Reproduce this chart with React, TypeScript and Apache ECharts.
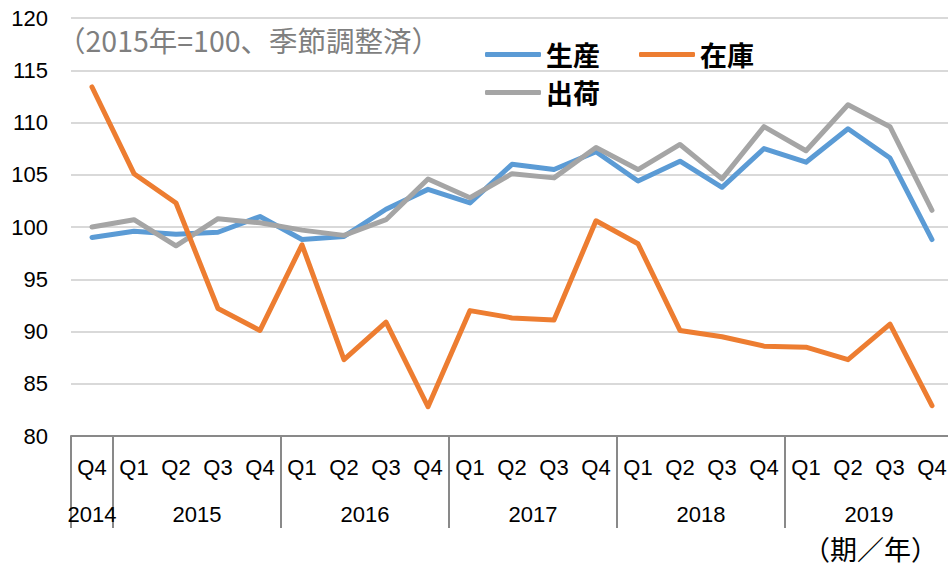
import React, { useEffect, useRef } from 'react';
import * as echarts from 'echarts';

const quarters = ['Q4', 'Q1', 'Q2', 'Q3', 'Q4', 'Q1', 'Q2', 'Q3', 'Q4', 'Q1', 'Q2', 'Q3', 'Q4', 'Q1', 'Q2', 'Q3', 'Q4', 'Q1', 'Q2', 'Q3', 'Q4'];
const years = ['2014', '2015', '2016', '2017', '2018', '2019'];
const quartersPerYear = [1, 4, 4, 4, 4, 4];

const production = [99.0, 99.6, 99.3, 99.5, 101.0, 98.8, 99.1, 101.7, 103.6, 102.3, 106.0, 105.5, 107.2, 104.4, 106.3, 103.8, 107.5, 106.2, 109.4, 106.6, 98.8];
const inventory = [113.4, 105.1, 102.3, 92.2, 90.1, 98.3, 87.3, 90.9, 82.8, 92.0, 91.3, 91.1, 100.6, 98.4, 90.1, 89.5, 88.6, 88.5, 87.3, 90.7, 82.9];
const shipments = [100.0, 100.7, 98.2, 100.8, 100.4, 99.7, 99.2, 100.7, 104.6, 102.8, 105.1, 104.7, 107.6, 105.5, 107.9, 104.6, 109.6, 107.3, 111.7, 109.6, 101.6];

const yMin = 80;
const yMax = 120;
const yInterval = 5;

const seriesNames = ['生産', '在庫', '出荷'];
const colors = ['#5B9BD5', '#ED7D31', '#A5A5A5'];

const cjk = "'Noto Sans CJK JP', 'Noto Sans', sans-serif";
const latin = "'Liberation Sans', Arial, sans-serif";

export default function App() {
  const ref = useRef<HTMLDivElement>(null);

  useEffect(() => {
    if (!ref.current) return;
    document.body.style.margin = '0';
    const chart = echarts.init(ref.current, undefined, { renderer: 'svg' });

    const groupStarts: number[] = [];
    const groupCenters: number[] = [];
    let acc = 0;
    quartersPerYear.forEach((n) => {
      groupStarts.push(acc);
      groupCenters.push(acc + n / 2);
      acc += n;
    });

    const lineSeries = (name: string, data: number[], color: string, z: number) => ({
      name,
      type: 'line',
      data,
      xAxisIndex: 0,
      yAxisIndex: 0,
      symbol: 'none',
      z,
      itemStyle: { color },
      lineStyle: { color, width: 5, cap: 'round', join: 'round' },
    });

    const legendBase = {
      left: 485,
      itemWidth: 56,
      itemHeight: 5,
      itemGap: 39,
      icon: 'roundRect',
      padding: 0,
      textStyle: { fontSize: 27, fontWeight: 'bold', color: '#000', fontFamily: cjk },
    };

    chart.setOption({
      animation: false,
      color: colors,
      grid: { left: 71, top: 18, width: 882, height: 418, containLabel: false, outerBoundsMode: 'none' },
      xAxis: [
        {
          type: 'category',
          data: quarters,
          boundaryGap: true,
          position: 'bottom',
          axisLine: { lineStyle: { color: '#898989', width: 2 } },
          axisTick: {
            show: true,
            interval: (i: number) => groupStarts.includes(i),
            length: 92,
            lineStyle: { color: '#898989', width: 2 },
          },
          axisLabel: { interval: 0, fontSize: 22, color: '#000', margin: 20, fontFamily: latin },
          splitLine: { show: false },
        },
        {
          type: 'value',
          position: 'bottom',
          min: 0,
          max: quarters.length,
          interval: 0.5,
          axisLine: { show: false },
          axisTick: { show: false },
          splitLine: { show: false },
          axisLabel: {
            fontSize: 22,
            color: '#000',
            margin: 67,
            fontFamily: latin,
            formatter: (v: number) => {
              const idx = groupCenters.findIndex((c) => Math.abs(c - v) < 1e-6);
              return idx >= 0 ? years[idx] : '';
            },
          },
        },
      ],
      yAxis: {
        type: 'value',
        min: yMin,
        max: yMax,
        interval: yInterval,
        axisLine: { show: false },
        axisTick: { show: false },
        axisLabel: { fontSize: 22, color: '#000', margin: 23, fontFamily: latin },
        splitLine: { lineStyle: { color: '#d9d9d9', width: 2 } },
      },
      legend: [
        { ...legendBase, top: 41, data: [seriesNames[0], seriesNames[1]] },
        { ...legendBase, top: 79, data: [seriesNames[2]] },
      ],
      graphic: [
        {
          type: 'text',
          left: 57,
          top: 25,
          style: { text: '（2015年=100、季節調整済）', fontSize: 28.5, fill: '#7f7f7f', fontFamily: cjk },
        },
        {
          type: 'text',
          left: 803,
          top: 535,
          style: { text: '（期／年）', fontSize: 27, fill: '#000', fontFamily: cjk },
        },
      ],
      series: [
        lineSeries(seriesNames[0], production, colors[0], 2),
        lineSeries(seriesNames[1], inventory, colors[1], 4),
        lineSeries(seriesNames[2], shipments, colors[2], 3),
      ],
    });

    return () => chart.dispose();
  }, []);

  return <div ref={ref} style={{ position: 'absolute', left: 0, top: 0, width: 948, height: 568 }} />;
}
